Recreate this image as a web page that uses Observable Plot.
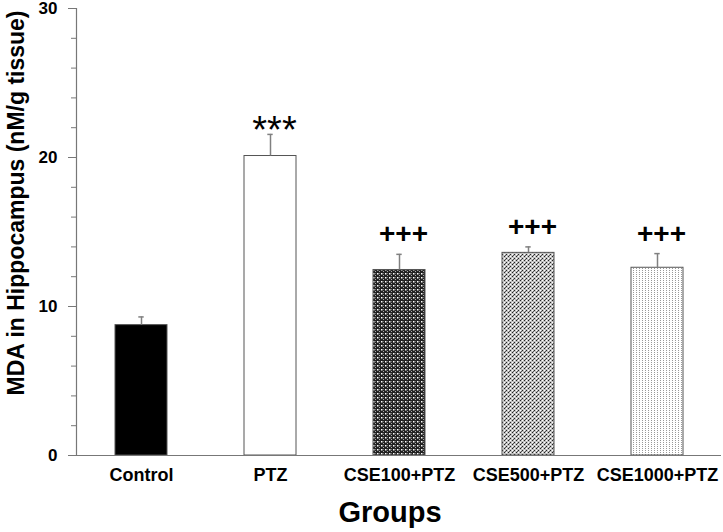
<!DOCTYPE html>
<html><head><meta charset="utf-8">
<script src="https://cdn.jsdelivr.net/npm/d3@7"></script>
<script src="https://cdn.jsdelivr.net/npm/@observablehq/plot@0.6"></script>
<style>html,body{margin:0;padding:0;background:#fff} #chart svg{display:block}</style>
</head><body><div id="chart"></div>
<script>
// Data
const groups = ["Control", "PTZ", "CSE100+PTZ", "CSE500+PTZ", "CSE1000+PTZ"];
const means  = [8.75, 20.1, 12.45, 13.6, 12.6];
const sems   = [0.55, 1.45, 1.05, 0.4, 0.95];
const marks  = ["", "***", "+++", "+++", "+++"];
const yTicks = [0, 10, 20, 30];
const yMinorTicks = [0, 2, 4, 6, 8, 10, 12, 14, 16, 18, 20, 22, 24, 26, 28, 30];
const yLabel = "MDA in Hippocampus (nM/g tissue)";
const xLabel = "Groups";

// Styles (per group)
const fills = ["#000", "#fff", "url(#pat100)", "url(#pat500)", "url(#pat1000)"];

const data = groups.map((g, i) => ({group: g, mean: means[i], sem: sems[i], top: means[i] + sems[i], mark: marks[i]}));
const fillOf = Object.fromEntries(groups.map((g, i) => [g, fills[i]]));

const font = "'Liberation Sans', Arial, sans-serif";
const axisColor = "#777";

const svg = Plot.plot({
  width: 723,
  height: 532,
  marginTop: 8,
  marginBottom: 77,
  marginLeft: 76,
  marginRight: 2,
  style: {fontFamily: font, fontWeight: "bold", fontSize: "17px", color: "#000", background: "#fff", overflow: "visible"},
  x: {domain: groups, padding: 0.6, paddingOuter: 0.3, label: null},
  y: {domain: [0, 30], label: null},
  marks: [
    Plot.barY(data, {x: "group", y: "mean", fill: d => fillOf[d.group], stroke: "#555", strokeWidth: 1}),
    Plot.ruleX(data, {x: "group", y1: "mean", y2: "top", stroke: "#808080", strokeWidth: 1.5}),
    Plot.tickY(data, {x: "group", y: "top", stroke: "#808080", strokeWidth: 1.5, insetLeft: 23.3, insetRight: 23.3}),
    Plot.text(data.filter(d => d.mark === "***"), {x: "group", y: "top", text: "mark", fontSize: 38, fontWeight: "normal", letterSpacing: 8, dx: 4, dy: -4}),
    Plot.text(data.filter(d => d.mark === "+++"), {x: "group", y: "top", text: "mark", fontSize: 28, fontWeight: "bold", letterSpacing: 5, dx: 4, dy: -20}),
    Plot.ruleY([0], {stroke: axisColor, strokeWidth: 1.2}),
    Plot.frame({anchor: "left", stroke: axisColor, strokeWidth: 1.2}),
    Plot.axisY({ticks: yMinorTicks, tickSize: 5, tickFormat: () => "", stroke: axisColor, label: null}),
    Plot.axisY({ticks: yTicks, tickSize: 8, tickPadding: 11, fontSize: 17, fontWeight: "bold", stroke: axisColor, label: null}),
    Plot.axisX({tickSize: 0, tickPadding: 13, fontSize: 18, fontWeight: "bold", label: null}),
    Plot.text([xLabel], {frameAnchor: "bottom", dx: -9, dy: 66, fontSize: 29, fontWeight: "bold"}),
    Plot.text([yLabel], {frameAnchor: "left", textAnchor: "middle", rotate: -90, dx: -60, dy: -29, fontSize: 23, fontWeight: "bold"})
  ]
});

const defs = d3.select(svg).insert("defs", ":first-child");
// dark checker (CSE100)
const p1 = defs.append("pattern").attr("id", "pat100").attr("patternUnits", "userSpaceOnUse").attr("width", 4).attr("height", 4);
p1.append("rect").attr("width", 4).attr("height", 4).attr("fill", "#222");
p1.append("rect").attr("x", 1).attr("y", 1).attr("width", 1.5).attr("height", 1.5).attr("fill", "#fff");
p1.append("rect").attr("x", 3).attr("y", 3).attr("width", 1).attr("height", 1).attr("fill", "#aaa");
p1.append("rect").attr("x", 3).attr("y", 1).attr("width", 1).attr("height", 1).attr("fill", "#666");
// medium checker (CSE500)
const p2 = defs.append("pattern").attr("id", "pat500").attr("patternUnits", "userSpaceOnUse").attr("width", 4).attr("height", 4);
p2.append("rect").attr("width", 4).attr("height", 4).attr("fill", "#c0c0c0");
p2.append("rect").attr("x", 0).attr("y", 0).attr("width", 1).attr("height", 1).attr("fill", "#222");
p2.append("rect").attr("x", 2).attr("y", 2).attr("width", 1).attr("height", 1).attr("fill", "#222");
p2.append("rect").attr("x", 2).attr("y", 0).attr("width", 1).attr("height", 1).attr("fill", "#fff");
p2.append("rect").attr("x", 0).attr("y", 2).attr("width", 1).attr("height", 1).attr("fill", "#fff");
p2.append("rect").attr("x", 1).attr("y", 3).attr("width", 1).attr("height", 1).attr("fill", "#555");
// light dots (CSE1000)
const p3 = defs.append("pattern").attr("id", "pat1000").attr("patternUnits", "userSpaceOnUse").attr("width", 3).attr("height", 2);
p3.append("rect").attr("width", 3).attr("height", 2).attr("fill", "#fff");
p3.append("rect").attr("x", 0).attr("y", 0).attr("width", 1).attr("height", 1).attr("fill", "#999");

document.getElementById("chart").appendChild(svg);
</script>
</body></html>
